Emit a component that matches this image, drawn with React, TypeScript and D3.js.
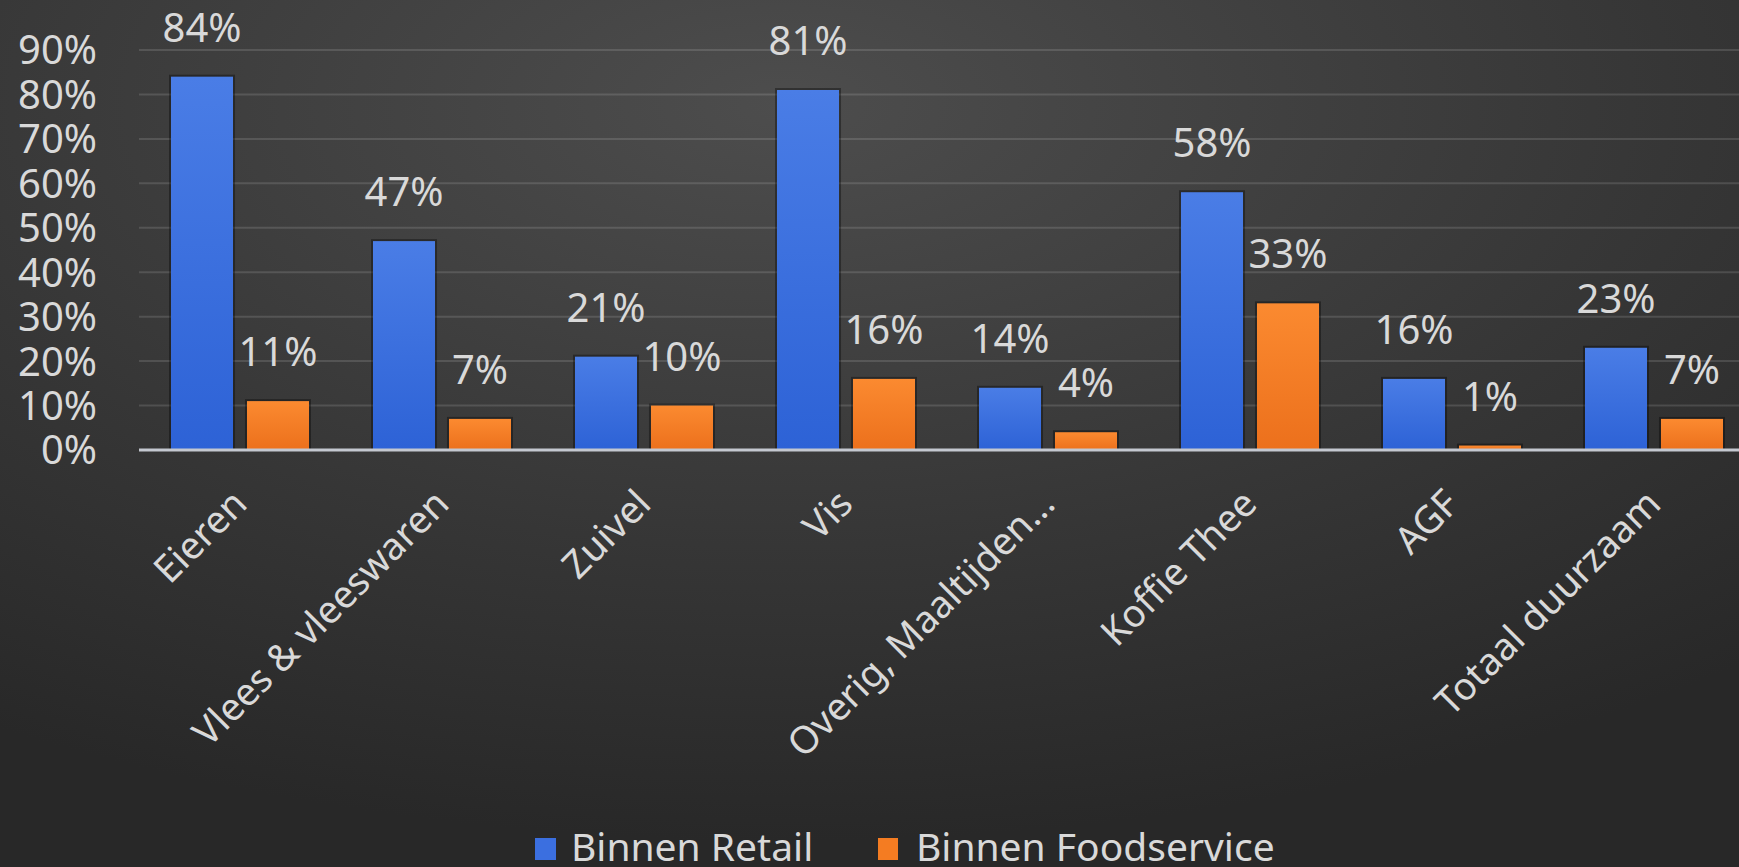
import React from 'react';
import * as d3 from 'd3';

const categories = [
  'Eieren',
  'Vlees & vleeswaren',
  'Zuivel',
  'Vis',
  'Overig, Maaltijden...',
  'Koffie Thee',
  'AGF',
  'Totaal duurzaam',
];
const retailValues = [0.84, 0.47, 0.21, 0.81, 0.14, 0.58, 0.16, 0.23];
const foodserviceValues = [0.11, 0.07, 0.1, 0.16, 0.04, 0.33, 0.01, 0.07];
const seriesNames = ['Binnen Retail', 'Binnen Foodservice'];
const yTickValues = [0, 0.1, 0.2, 0.3, 0.4, 0.5, 0.6, 0.7, 0.8, 0.9];

const W = 1739;
const H = 867;
const FONT = '"Noto Sans", "Open Sans", sans-serif';
const TEXT = '#d9d9d9';

export default function App() {
  const x0 = d3.scaleBand<string>().domain(categories).range([139, 1755]).paddingInner(0).paddingOuter(0);
  const x1 = d3
    .scaleBand<string>()
    .domain(seriesNames)
    .range([0, x0.bandwidth()])
    .paddingInner(0.184)
    .paddingOuter(0.421);
  const y = d3.scaleLinear().domain([0, 0.9]).range([450, 50]);
  const pct = d3.format('.0%');
  const series = [
    { name: seriesNames[0], values: retailValues, fill: 'url(#gBlue)', swatch: '#3b6fe0' },
    { name: seriesNames[1], values: foodserviceValues, fill: 'url(#gOrange)', swatch: '#f47c22' },
  ];

  return (
    <svg
      width={W}
      height={H}
      style={{ position: 'absolute', left: 0, top: 0, display: 'block' }}
      fontFamily={FONT}
    >
      <defs>
        <radialGradient id="bg" cx="0.45" cy="0.12" r="0.85">
          <stop offset="0" stopColor="#4d4d4d" />
          <stop offset="0.6" stopColor="#363636" />
          <stop offset="1" stopColor="#282828" />
        </radialGradient>
        <linearGradient id="gBlue" x1="0" y1="0" x2="0" y2="1">
          <stop offset="0" stopColor="#4a7de6" />
          <stop offset="1" stopColor="#2d62d6" />
        </linearGradient>
        <linearGradient id="gOrange" x1="0" y1="0" x2="0" y2="1">
          <stop offset="0" stopColor="#fb8a30" />
          <stop offset="1" stopColor="#ec701c" />
        </linearGradient>
      </defs>
      <rect x={0} y={0} width={W} height={H} fill="url(#bg)" />

      {/* gridlines */}
      {yTickValues
        .filter((t) => t > 0)
        .map((t) => (
          <line key={t} x1={139} x2={W} y1={y(t)} y2={y(t)} stroke="#ffffff" strokeOpacity={0.13} strokeWidth={2} />
        ))}

      {/* y tick labels */}
      {yTickValues.map((t) => (
        <text key={t} x={97} y={y(t)} dy="0.36em" textAnchor="end" fontSize={40} fill={TEXT}>
          {pct(t)}
        </text>
      ))}

      {/* bars */}
      {categories.map((c, i) => (
        <g key={c} transform={`translate(${x0(c)},0)`}>
          {series.map((s) => {
            const v = s.values[i];
            const bx = x1(s.name) as number;
            const bw = x1.bandwidth();
            return (
              <g key={s.name}>
                <rect
                  x={bx - 2}
                  y={y(v) - 2}
                  width={bw + 4}
                  height={y(0) - y(v) + 2}
                  fill="#000"
                  fillOpacity={0.35}
                />
                <rect x={bx} y={y(v)} width={bw} height={y(0) - y(v)} fill={s.fill} />
                <text x={bx + bw / 2} y={y(v) - 35} textAnchor="middle" fontSize={40} fill={TEXT}>
                  {pct(v)}
                </text>
              </g>
            );
          })}
        </g>
      ))}

      {/* axis line */}
      <line x1={139} x2={W} y1={y(0)} y2={y(0)} stroke="#c4c8d0" strokeWidth={3} />

      {/* x labels */}
      {categories.map((c) => {
        const cx = (x0(c) as number) + x0.bandwidth() / 2;
        return (
          <text
            key={c}
            transform={`translate(${cx + 9},${506}) rotate(-45)`}
            textAnchor="end"
            fontSize={38}
            fill={TEXT}
          >
            {c}
          </text>
        );
      })}

      {/* legend */}
      <g>
        <rect x={535} y={838} width={21} height={22} fill={series[0].swatch} />
        <text x={571} y={861} fontSize={39} fill={TEXT}>
          {seriesNames[0]}
        </text>
        <rect x={878} y={838} width={20} height={22} fill={series[1].swatch} />
        <text x={916} y={861} fontSize={39} fill={TEXT}>
          {seriesNames[1]}
        </text>
      </g>
    </svg>
  );
}
